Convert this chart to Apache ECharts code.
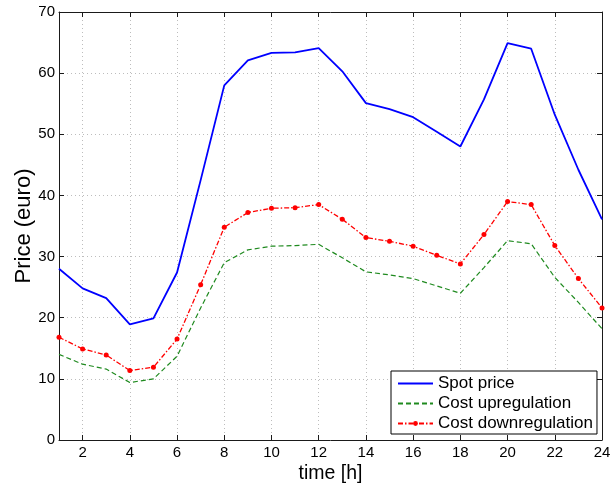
<!DOCTYPE html>
<html>
<head>
<meta charset="utf-8">
<title>Spot price and regulation costs</title>
<script src="https://cdn.jsdelivr.net/npm/echarts@6/dist/echarts.min.js"></script>
<style>
  html, body { margin: 0; padding: 0; background: #fff; }
  #chart { width: 613px; height: 483px; }
</style>
</head>
<body>
<div id="chart"></div>
<script>
// Hourly prices over one day
const hours = [1, 2, 3, 4, 5, 6, 7, 8, 9, 10, 11, 12, 13, 14, 15, 16, 17, 18, 19, 20, 21, 22, 23, 24];
const spotPrice = [28.0, 24.8, 23.2, 18.9, 19.9, 27.4, 42.5, 58.0, 62.1, 63.3, 63.4, 64.1,
                   60.3, 55.1, 54.1, 52.8, 50.4, 48.0, 55.7, 64.9, 64.0, 53.2, 44.2, 36.1];
const costUp = [14.0, 12.4, 11.6, 9.4, 10.0, 13.7, 21.6, 29.0, 31.1, 31.7, 31.8, 32.0,
                29.8, 27.5, 27.0, 26.4, 25.2, 24.0, 28.2, 32.6, 32.1, 26.6, 22.5, 18.2];
const costDown = [16.8, 14.9, 13.9, 11.35, 11.9, 16.5, 25.4, 34.8, 37.2, 37.9, 38.0, 38.5,
                  36.1, 33.1, 32.5, 31.7, 30.2, 28.8, 33.6, 39.0, 38.5, 31.8, 26.4, 21.6];
const xTicks = [2, 4, 6, 8, 10, 12, 14, 16, 18, 20, 22, 24];
const seriesNames = ['Spot price', 'Cost upregulation', 'Cost downregulation'];

const FONT = '"Liberation Sans", Arial, Helvetica, sans-serif';
const AXIS_COLOR = '#1a1a1a';
const GRID_LINE = { show: true, lineStyle: { color: '#bdbdbd', width: 1, type: [1, 3] } };

const pairs = vals => hours.map((h, i) => [h, vals[i]]);

const chart = echarts.init(document.getElementById('chart'), null, { renderer: 'canvas' });

chart.setOption({
  animation: false,
  backgroundColor: '#fff',
  textStyle: { fontFamily: FONT },
  grid: {
    left: 59, right: 11, top: 12, bottom: 43,
    containLabel: false,
    outerBoundsMode: 'none'
  },
  legend: {
    orient: 'vertical',
    left: 391, top: 371,
    itemWidth: 35, itemHeight: 6, itemGap: 3,
    padding: [4, 4, 2, 6],
    borderColor: '#000', borderWidth: 1, borderRadius: 0,
    backgroundColor: '#fff',
    textStyle: { fontSize: 17, color: '#000', fontFamily: FONT },
    data: [
      // line-only entries: hide the marker drawn in the legend icon
      { name: seriesNames[0], itemStyle: { opacity: 0 } },
      { name: seriesNames[1], itemStyle: { opacity: 0 } },
      { name: seriesNames[2] }
    ]
  },
  xAxis: [
    {
      type: 'value', position: 'bottom', min: 1, max: 24,
      name: 'time [h]', nameLocation: 'middle', nameGap: 24, nameMoveOverlap: false,
      nameTextStyle: { fontSize: 19.5, color: '#000', fontFamily: FONT },
      axisLine: { show: true, onZero: false, lineStyle: { color: AXIS_COLOR, width: 1 } },
      axisTick: { show: true, inside: true, length: 5, customValues: xTicks, lineStyle: { color: AXIS_COLOR } },
      axisLabel: { show: true, customValues: xTicks, fontSize: 15, color: '#000', margin: 5, fontFamily: FONT },
      splitLine: GRID_LINE
    },
    {
      type: 'value', position: 'top', min: 1, max: 24,
      axisLine: { show: true, onZero: false, lineStyle: { color: AXIS_COLOR, width: 1 } },
      axisTick: { show: true, inside: true, length: 5, customValues: xTicks, lineStyle: { color: AXIS_COLOR } },
      axisLabel: { show: false },
      splitLine: { show: false }
    }
  ],
  yAxis: [
    {
      type: 'value', position: 'left', min: 0, max: 70, interval: 10,
      name: 'Price (euro)', nameLocation: 'middle', nameGap: 24, nameMoveOverlap: false,
      nameTextStyle: { fontSize: 22, color: '#000', fontFamily: FONT },
      axisLine: { show: true, onZero: false, lineStyle: { color: AXIS_COLOR, width: 1 } },
      axisTick: { show: true, inside: true, length: 5, lineStyle: { color: AXIS_COLOR } },
      axisLabel: { show: true, fontSize: 15, color: '#000', margin: 4, fontFamily: FONT },
      splitLine: GRID_LINE
    },
    {
      type: 'value', position: 'right', min: 0, max: 70, interval: 10,
      axisLine: { show: true, onZero: false, lineStyle: { color: AXIS_COLOR, width: 1 } },
      axisTick: { show: true, inside: true, length: 5, lineStyle: { color: AXIS_COLOR } },
      axisLabel: { show: false },
      splitLine: { show: false }
    }
  ],
  series: [
    {
      name: seriesNames[0], type: 'line', xAxisIndex: 0, yAxisIndex: 0,
      data: pairs(spotPrice),
      symbol: 'none', showSymbol: false,
      color: '#0000ff',
      lineStyle: { color: '#0000ff', width: 1.8, type: 'solid' }
    },
    {
      name: seriesNames[1], type: 'line', xAxisIndex: 0, yAxisIndex: 0,
      data: pairs(costUp),
      symbol: 'none', showSymbol: false,
      color: '#1f8a1f',
      lineStyle: { color: '#1f8a1f', width: 1.2, type: [5, 3] }
    },
    {
      name: seriesNames[2], type: 'line', xAxisIndex: 0, yAxisIndex: 0,
      data: pairs(costDown),
      symbol: 'circle', symbolSize: 5, showSymbol: true,
      color: '#ff0000',
      itemStyle: { color: '#ff0000', borderWidth: 0 },
      lineStyle: { color: '#ff0000', width: 1.3, type: [5, 2, 1.5, 2] }
    }
  ]
});
</script>
</body>
</html>
